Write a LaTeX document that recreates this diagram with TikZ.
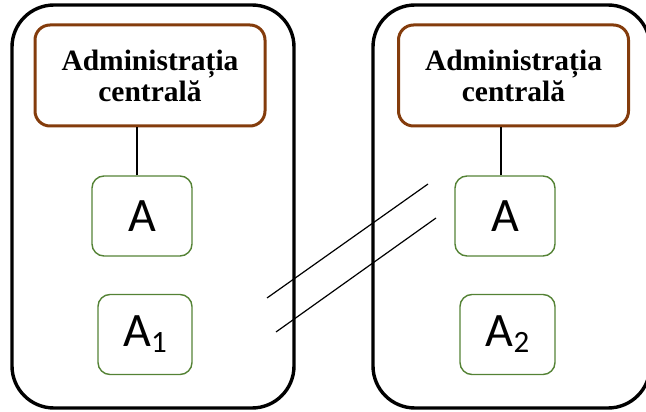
\documentclass[tikz,border=0pt]{standalone}
\usepackage{fontspec}
\setmainfont{Liberation Serif}
\newfontfamily\calibri{Carlito}
\definecolor{adminbrown}{RGB}{132,60,12}
\definecolor{unitgreen}{RGB}{84,130,53}
\begin{document}
\begin{tikzpicture}[x=1pt,y=-1pt,
        outer/.style={draw=black,line width=3.4pt,rounded corners=42pt,minimum width=#1,minimum height=403pt,inner sep=0pt},
        admin/.style={draw=adminbrown,line width=3pt,rounded corners=15pt,minimum width=230pt,minimum height=101pt,inner sep=0pt,align=center,font=\fontsize{29.5}{31}\selectfont\bfseries},
        unit/.style={draw=unitgreen,line width=1.4pt,rounded corners=12pt,minimum width=#1,minimum height=80pt,inner sep=0pt,font=\calibri\fontsize{48}{50}\selectfont},
        link/.style={line width=1.2pt}]
        \clip (0,0) rectangle (646,412);

        % two countries
        \node[outer=282pt] (left) at (153,206.5) {};
        \node[outer=277pt] (right) at (511.5,206.5) {};

        \node[admin] (adminL) at (150,75.5) {Administrația\\centrală};
        \node[admin] (adminR) at (513.5,75.5) {Administrația\\centrală};

        \node[unit=100pt] (aL) at (142,216) {A};
        \node[unit=94pt] (a1) at (145,334.5) {A\raisebox{-6pt}{\fontsize{31}{31}\selectfont 1}};
        \node[unit=100pt] (aR) at (505,216) {A};
        \node[unit=95pt] (a2) at (507.5,334.5) {A\raisebox{-6pt}{\fontsize{31}{31}\selectfont 2}};

        \draw[link] ([xshift=-5pt]aL.north) -- ([xshift=-5pt]aL.north |- adminL.south);
        \draw[link] ([xshift=-4pt]aR.north) -- ([xshift=-4pt]aR.north |- adminR.south);

        % break lines
        \coordinate (b1s) at (267,298);
        \coordinate (b1e) at (428,184);
        \coordinate (b2s) at (276,332);
        \coordinate (b2e) at (436,218);
        \draw[link] (b1s) -- (b1e);
        \draw[link] (b2s) -- (b2e);
\end{tikzpicture}
\end{document}
